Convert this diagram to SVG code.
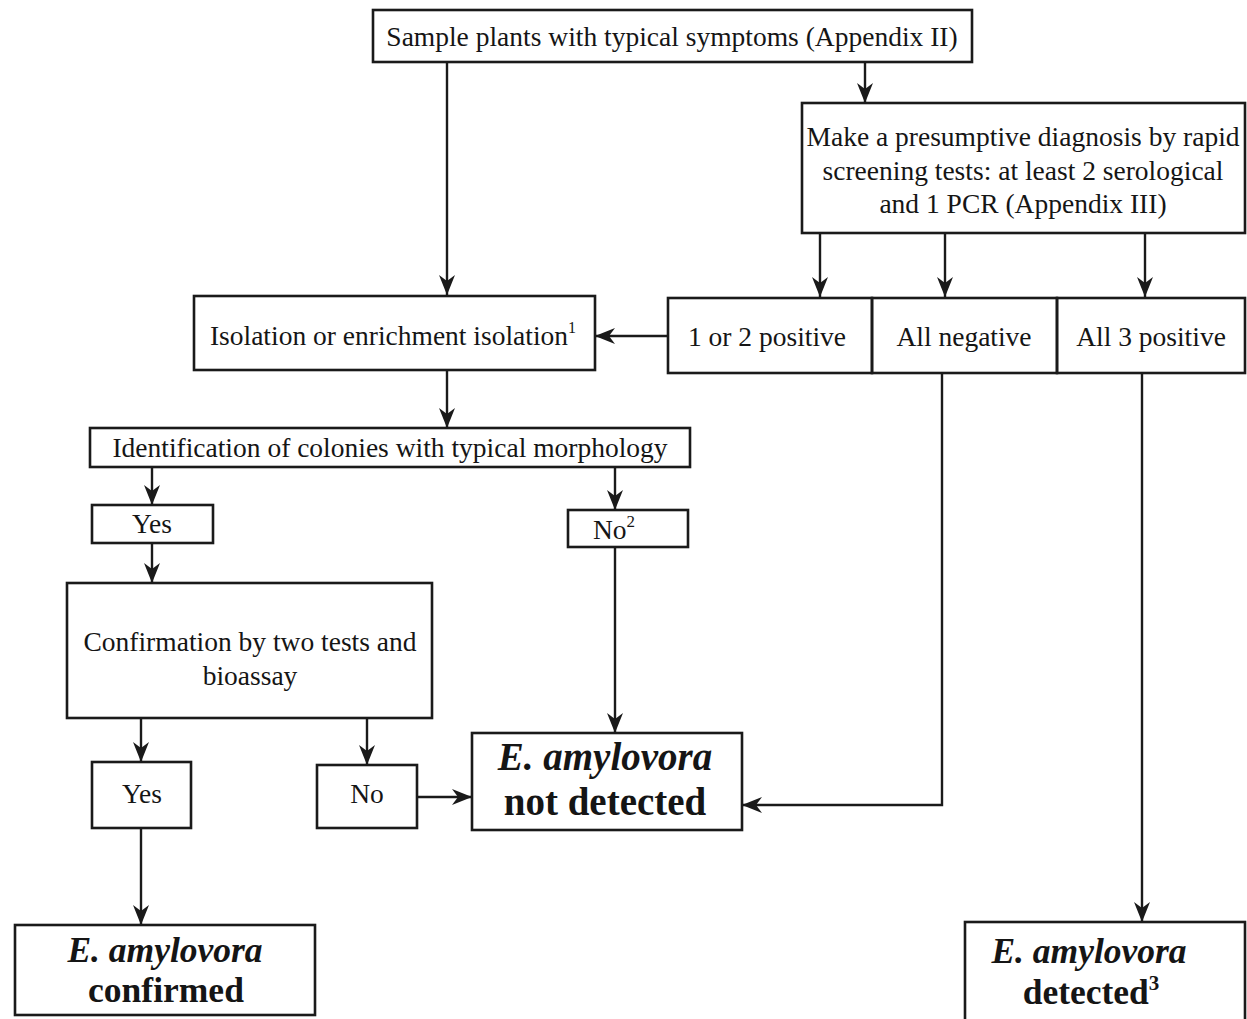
<svg xmlns="http://www.w3.org/2000/svg" width="1247" height="1019" viewBox="0 0 1247 1019">
<style>
.box{fill:none;stroke:#1a1a1a;stroke-width:2.6}
.t{font-family:"Liberation Serif","Times New Roman",serif;font-size:27.5px;fill:#151515;text-anchor:middle}
.big{font-family:"Liberation Serif","Times New Roman",serif;font-size:39px;font-weight:bold;fill:#151515;text-anchor:middle}
.mid{font-size:35.5px}
.it{font-style:italic}
.c{fill:none;stroke:#1a1a1a;stroke-width:2.4}
</style>
<defs>
<marker id="a" markerUnits="userSpaceOnUse" markerWidth="20" markerHeight="18" viewBox="0 0 20 18" refX="20" refY="9" orient="auto">
<path d="M0,1 L20,9 L0,17 L6,9 z" fill="#1a1a1a"/>
</marker>
</defs>
<rect width="1247" height="1019" fill="#ffffff"/>
<g id="connectors">
<path class="c" d="M865,62 V103" marker-end="url(#a)"/>
<path class="c" d="M447,62 V295" marker-end="url(#a)"/>
<path class="c" d="M820,233 V297" marker-end="url(#a)"/>
<path class="c" d="M945,233 V297" marker-end="url(#a)"/>
<path class="c" d="M1145,233 V297" marker-end="url(#a)"/>
<path class="c" d="M668,336 H595" marker-end="url(#a)"/>
<path class="c" d="M447,370 V428" marker-end="url(#a)"/>
<path class="c" d="M152,467 V505" marker-end="url(#a)"/>
<path class="c" d="M615,467 V510" marker-end="url(#a)"/>
<path class="c" d="M152,543 V583" marker-end="url(#a)"/>
<path class="c" d="M615,547 V733" marker-end="url(#a)"/>
<path class="c" d="M141,718 V762" marker-end="url(#a)"/>
<path class="c" d="M367,718 V765" marker-end="url(#a)"/>
<path class="c" d="M417,797 H472" marker-end="url(#a)"/>
<path class="c" d="M942,372 V805 H742" marker-end="url(#a)"/>
<path class="c" d="M1142,372 V922" marker-end="url(#a)"/>
<path class="c" d="M141,828 V925" marker-end="url(#a)"/>
</g>
<g id="sample">
<rect class="box" x="373" y="10" width="599" height="52"/>
<text class="t" x="672" y="46">Sample plants with typical symptoms (Appendix II)</text>
</g>
<g id="presumptive">
<rect class="box" x="802" y="103" width="443" height="130"/>
<text class="t" x="1023" y="146">Make a presumptive diagnosis by rapid</text>
<text class="t" x="1023" y="180">screening tests: at least 2 serological</text>
<text class="t" x="1023" y="213">and 1 PCR (Appendix III)</text>
</g>
<g id="onetwo">
<rect class="box" x="668" y="298" width="204" height="75"/>
<text class="t" x="767" y="346">1 or 2 positive</text>
</g>
<g id="allneg">
<rect class="box" x="872" y="298" width="185" height="75"/>
<text class="t" x="964" y="346">All negative</text>
</g>
<g id="all3">
<rect class="box" x="1057" y="298" width="188" height="75"/>
<text class="t" x="1151" y="346">All 3 positive</text>
</g>
<g id="isolation">
<rect class="box" x="194" y="296" width="401" height="74"/>
<text class="t" x="393" y="345">Isolation or enrichment isolation<tspan font-size="16" dy="-12">1</tspan></text>
</g>
<g id="identification">
<rect class="box" x="90" y="428" width="600" height="39"/>
<text class="t" x="390" y="457">Identification of colonies with typical morphology</text>
</g>
<g id="yes1">
<rect class="box" x="92" y="505" width="121" height="38"/>
<text class="t" x="152" y="533">Yes</text>
</g>
<g id="no2">
<rect class="box" x="568" y="510" width="120" height="37"/>
<text class="t" x="614" y="539">No<tspan font-size="17" dy="-12">2</tspan></text>
</g>
<g id="confirmation">
<rect class="box" x="67" y="583" width="365" height="135"/>
<text class="t" x="250" y="651">Confirmation by two tests and</text>
<text class="t" x="250" y="685">bioassay</text>
</g>
<g id="yes2">
<rect class="box" x="92" y="762" width="99" height="66"/>
<text class="t" x="142" y="803">Yes</text>
</g>
<g id="no">
<rect class="box" x="317" y="765" width="100" height="63"/>
<text class="t" x="367" y="803">No</text>
</g>
<g id="notdetected">
<rect class="box" x="472" y="733" width="270" height="97"/>
<text class="big" x="605" y="770"><tspan class="it">E. amylovora</tspan></text>
<text class="big" x="605" y="815">not detected</text>
</g>
<g id="confirmed">
<rect class="box" x="15" y="925" width="300" height="90"/>
<text class="big mid" x="165" y="962"><tspan class="it">E. amylovora</tspan></text>
<text class="big mid" x="166" y="1002">confirmed</text>
</g>
<g id="detected">
<rect class="box" x="965" y="922" width="280" height="110"/>
<text class="big mid" x="1089" y="963"><tspan class="it">E. amylovora</tspan></text>
<text class="big mid" x="1091" y="1004">detected<tspan font-size="21" dy="-14">3</tspan></text>
</g>
</svg>
